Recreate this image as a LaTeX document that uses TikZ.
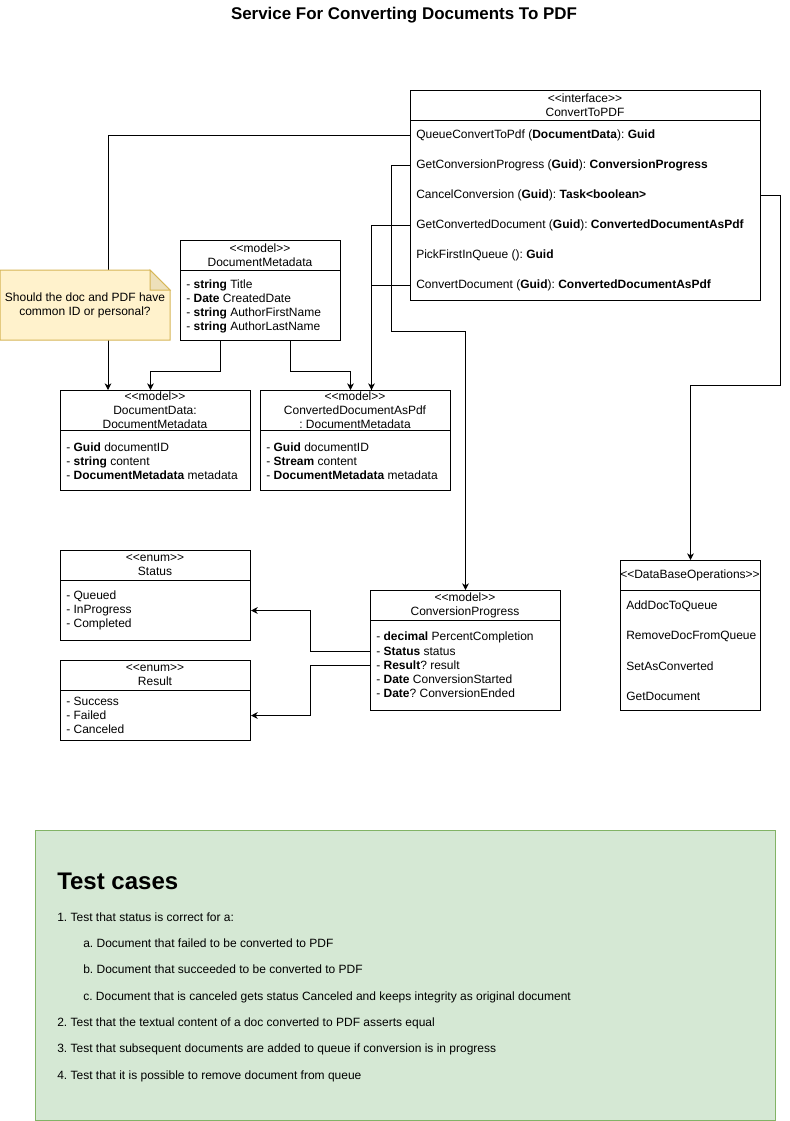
\documentclass[tikz,border=0pt]{standalone}
\usepackage{fontspec}
\setmainfont{Liberation Sans}[Ligatures=TeXOff]
\usetikzlibrary{arrows.meta, positioning}

\definecolor{notefill}{HTML}{FFF2CC}
\definecolor{noteline}{HTML}{D6B656}
\definecolor{notefold}{HTML}{EDE0BA}
\definecolor{testfill}{HTML}{D5E8D4}
\definecolor{testline}{HTML}{82B366}
\frenchspacing

\begin{document}
\begin{tikzpicture}[x=0.75pt, y=-0.75pt,
  frame/.style={draw, line width=0.75pt, fill=white, inner sep=0pt, anchor=north west},
  head/.style={align=center, inner sep=0pt, font=\fontsize{9}{10.5}\selectfont},
  rows/.style={anchor=west, align=left, inner xsep=4.5pt, inner ysep=0pt, yshift=-1pt, font=\fontsize{9}{10.5}\selectfont},
  arrow/.style={-{Stealth[length=5pt, width=5pt, inset=1.5pt]}, line width=0.75pt},
  wire/.style={line width=0.75pt},
]
  \useasboundingbox (0,0) rectangle (789,1121);

  \node[font=\bfseries\fontsize{12.7}{15}\selectfont] (title) at (404,15) {Service For Converting Documents To PDF};

  % interface
  \node[frame, minimum width=262.5pt, minimum height=157.5pt] (iface) at (410,90) {};
  \draw[wire] ([yshift=-22.5pt]iface.north west) -- ([yshift=-22.5pt]iface.north east);
  \node[head] (ifaceh) at (585,105) {<<interface>>\\ConvertToPDF};
  \node[rows] (queue) at (410,134) {QueueConvertToPdf (\textbf{DocumentData}): \textbf{Guid}};
  \node[rows] (progress) at (410,164) {GetConversionProgress (\textbf{Guid}): \textbf{ConversionProgress}};
  \node[rows] (cancel) at (410,194) {CancelConversion (\textbf{Guid}): \textbf{Task<boolean>}};
  \node[rows] (getdoc) at (410,224) {GetConvertedDocument (\textbf{Guid}): \textbf{ConvertedDocumentAsPdf}};
  \node[rows] (pick) at (410,254) {PickFirstInQueue (): \textbf{Guid}};
  \node[rows] (convert) at (410,284) {ConvertDocument (\textbf{Guid}): \textbf{ConvertedDocumentAsPdf}};

  % models
  \node[frame, minimum width=120pt, minimum height=75pt] (meta) at (180,240) {};
  \draw[wire] ([yshift=-22.5pt]meta.north west) -- ([yshift=-22.5pt]meta.north east);
  \node[head] (metah) at (260,255) {<<model>>\\DocumentMetadata};
  \node[rows] (metar) at (180,305) {- \textbf{string} Title\\- \textbf{Date} CreatedDate\\- \textbf{string} AuthorFirstName\\- \textbf{string} AuthorLastName};

  \node[frame, minimum width=142.5pt, minimum height=75pt] (docdata) at (60,390) {};
  \draw[wire] ([yshift=-30pt]docdata.north west) -- ([yshift=-30pt]docdata.north east);
  \node[head] (docdatah) at (155,410) {<<model>>\\DocumentData:\\DocumentMetadata};
  \node[rows] (docdatar) at (60,460) {- \textbf{Guid} documentID\\- \textbf{string} content\\- \textbf{DocumentMetadata} metadata};

  \node[frame, minimum width=142.5pt, minimum height=75pt] (pdfdoc) at (260,390) {};
  \draw[wire] ([yshift=-30pt]pdfdoc.north west) -- ([yshift=-30pt]pdfdoc.north east);
  \node[head] (pdfdoch) at (355,410) {<<model>>\\ConvertedDocumentAsPdf\\: DocumentMetadata};
  \node[rows] (pdfdocr) at (260,460) {- \textbf{Guid} documentID\\- \textbf{Stream} content\\- \textbf{DocumentMetadata} metadata};

  % enums
  \node[frame, minimum width=142.5pt, minimum height=67.5pt] (status) at (60,550) {};
  \draw[wire] ([yshift=-22.5pt]status.north west) -- ([yshift=-22.5pt]status.north east);
  \node[head] (statush) at (155,565) {<<enum>>\\Status};
  \node[rows] (statusr) at (60,609) {- Queued\\- InProgress\\- Completed};

  \node[frame, minimum width=142.5pt, minimum height=60pt] (result) at (60,660) {};
  \draw[wire] ([yshift=-22.5pt]result.north west) -- ([yshift=-22.5pt]result.north east);
  \node[head] (resulth) at (155,675) {<<enum>>\\Result};
  \node[rows] (resultr) at (60,714) {- Success\\- Failed\\- Canceled};

  \node[frame, minimum width=142.5pt, minimum height=90pt] (convprog) at (370,590) {};
  \draw[wire] ([yshift=-22.5pt]convprog.north west) -- ([yshift=-22.5pt]convprog.north east);
  \node[head] (convprogh) at (465,605) {<<model>>\\ConversionProgress};
  \node[rows] (cppercent) at (370,636) {- \textbf{decimal} PercentCompletion};
  \node[rows] (cpstatus) at (370,650) {- \textbf{Status} status};
  \node[rows] (cpresult) at (370,664) {- \textbf{Result}? result};
  \node[rows] (cpstart) at (370,678) {- \textbf{Date} ConversionStarted};
  \node[rows] (cpend) at (370,692) {- \textbf{Date}? ConversionEnded};

  \node[frame, minimum width=105pt, minimum height=112.5pt] (dbops) at (620,560) {};
  \draw[wire] ([yshift=-22.5pt]dbops.north west) -- ([yshift=-22.5pt]dbops.north east);
  \node[head] (dbopsh) at (690,575) {<<DataBaseOperations>>};
  \node[rows] (addq) at (620,605) {AddDocToQueue};
  \node[rows] (removeq) at (620,635) {RemoveDocFromQueue};
  \node[rows] (setconv) at (620,665) {SetAsConverted};
  \node[rows] (getd) at (620,695) {GetDocument};

  % connectors
  \draw[arrow] (queue.west) -| ([xshift=36pt]docdata.north west);
  \draw[arrow] (progress.west) -- ++(-19,0) -- ++(0,166) -| (convprog.north);
  \draw[arrow] (getdoc.west) -| ([xshift=12pt]pdfdoc.north);
  \draw[wire] (convert.west) -| ([xshift=12pt]pdfdoc.north);
  \draw[arrow] (cancel.west -| iface.east) -- ++(19,0) -- ++(0,190) -| (dbops.north);
  \draw[arrow] ([xshift=-30pt]meta.south) -- ++(0,30) -| ([xshift=-3.75pt]docdata.north);
  \draw[arrow] ([xshift=22.5pt]meta.south) -- ++(0,30) -| ([xshift=-3.75pt]pdfdoc.north);
  \draw[arrow] (cpstatus.west) -- ++(-60,0) |- ([yshift=-11.25pt]status.east);
  \draw[arrow] (cpresult.west) -- ++(-60,0) |- ([yshift=-11.25pt]result.east);

  % note
  \filldraw[fill=notefill, draw=noteline, line width=0.75pt] (0,270) -- (150,270) -- (170,290) -- (170,340) -- (0,340) -- cycle;
  \filldraw[fill=notefold, draw=noteline, line width=0.75pt] (150,270) -- (150,290) -- (170,290) -- cycle;
  \node[head] (note) at (85,305) {Should the doc and PDF have\\common ID or personal?};

  % test cases
  \node[frame, fill=testfill, draw=testline, minimum width=555pt, minimum height=217.5pt] (tests) at (35,830) {};
  \node[anchor=west, inner sep=0pt, font=\bfseries\fontsize{18}{21}\selectfont] (testsh) at (57,881) {Test cases};
  \node[anchor=west, align=left, inner sep=0pt, font=\fontsize{9}{19.75}\selectfont] (testsr) at (57,997) {1. Test that status is correct for a:\\
    \hspace*{19.5pt}a. Document that failed to be converted to PDF\\
    \hspace*{19.5pt}b. Document that succeeded to be converted to PDF\\
    \hspace*{19.5pt}c. Document that is canceled gets status Canceled and keeps integrity as original document\\
    2. Test that the textual content of a doc converted to PDF asserts equal\\
    3. Test that subsequent documents are added to queue if conversion is in progress\\
    4. Test that it is possible to remove document from queue};
\end{tikzpicture}
\end{document}
